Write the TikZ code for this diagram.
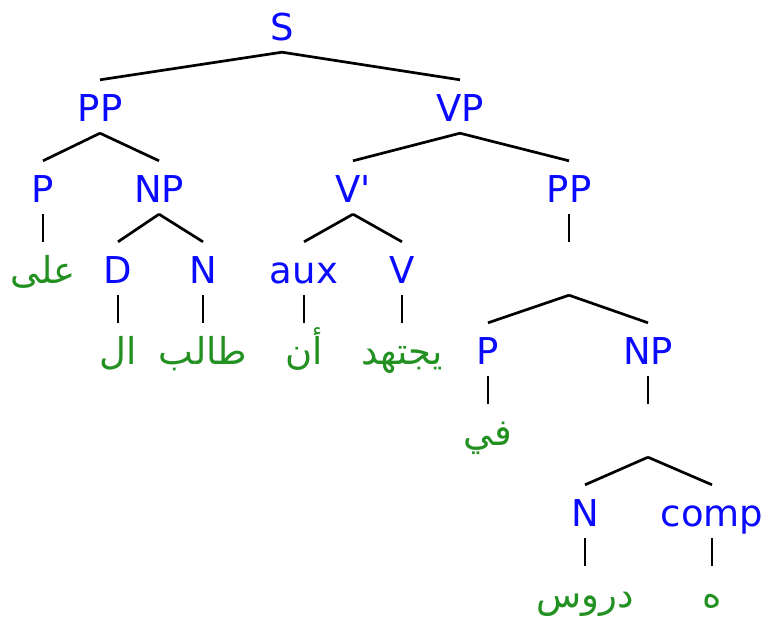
\documentclass[tikz,border=0pt]{standalone}
\usepackage{fontspec}
\setmainfont{DejaVu Sans}
\newfontfamily\arabicfont[Script=Arabic]{DejaVu Sans}
\TeXXeTstate=1
\definecolor{lblue}{RGB}{10,10,255}
\definecolor{lgreen}{RGB}{34,145,34}
\tikzset{
 cat/.style={text=lblue, font=\fontsize{37}{44}\selectfont, inner sep=0pt, text height=41pt, text depth=12pt, anchor=base},
 word/.style={text=lgreen, font=\arabicfont\fontsize{37}{44}\selectfont, inner sep=0pt, text height=41pt, text depth=12pt, anchor=base},
 edge/.style={line width=2.7pt}
}
\begin{document}
\begin{tikzpicture}[x=1pt,y=-1pt]
\useasboundingbox (0,0) rectangle (766,622);
\node[cat] (S) at (282,40) {S};
\node[cat] (PP1) at (100,121) {PP};
\node[cat] (VP) at (460,121) {VP};
\node[cat] (P1) at (43,202) {P};
\node[cat] (NP1) at (159,202) {NP};
\node[cat] (Vb) at (353,202) {V\textquotesingle};
\node[cat] (PP2) at (569,202) {PP};
\node[word] (w1) at (43,283) {\beginR على\endR};
\node[cat] (D) at (118,283) {D};
\node[cat] (N1) at (203,283) {N};
\node[cat] (aux) at (304,283) {aux};
\node[cat] (V) at (402,283) {V};
\node[cat] (e1) at (569,283) {};
\node[word] (w2) at (118,364) {\beginR ال\endR};
\node[word] (w3) at (203,364) {\beginR طالب\endR};
\node[word] (w4) at (304,364) {\beginR أن\endR};
\node[word] (w5) at (402,364) {\beginR يجتهد\endR};
\node[cat] (P2) at (488,364) {P};
\node[cat] (NP2) at (648,364) {NP};
\node[word] (w6) at (488,445) {\beginR في\endR};
\node[cat] (e2) at (648,445) {};
\node[cat] (N2) at (585,526) {N};
\node[cat] (comp) at (712,526) {comp};
\node[word] (w7) at (585,607) {\beginR دروس\endR};
\node[word] (w8) at (712,607) {\beginR ه\endR};
\draw[edge] (S.south) -- (PP1.north);
\draw[edge] (S.south) -- (VP.north);
\draw[edge] (PP1.south) -- (P1.north);
\draw[edge] (PP1.south) -- (NP1.north);
\draw[edge] (VP.south) -- (Vb.north);
\draw[edge] (VP.south) -- (PP2.north);
\draw[edge] (P1.south) -- (w1.north);
\draw[edge] (NP1.south) -- (D.north);
\draw[edge] (NP1.south) -- (N1.north);
\draw[edge] (Vb.south) -- (aux.north);
\draw[edge] (Vb.south) -- (V.north);
\draw[edge] (PP2.south) -- (e1.north);
\draw[edge] (D.south) -- (w2.north);
\draw[edge] (N1.south) -- (w3.north);
\draw[edge] (aux.south) -- (w4.north);
\draw[edge] (V.south) -- (w5.north);
\draw[edge] (e1.south) -- (P2.north);
\draw[edge] (e1.south) -- (NP2.north);
\draw[edge] (P2.south) -- (w6.north);
\draw[edge] (NP2.south) -- (e2.north);
\draw[edge] (e2.south) -- (N2.north);
\draw[edge] (e2.south) -- (comp.north);
\draw[edge] (N2.south) -- (w7.north);
\draw[edge] (comp.south) -- (w8.north);
\end{tikzpicture}
\end{document}
